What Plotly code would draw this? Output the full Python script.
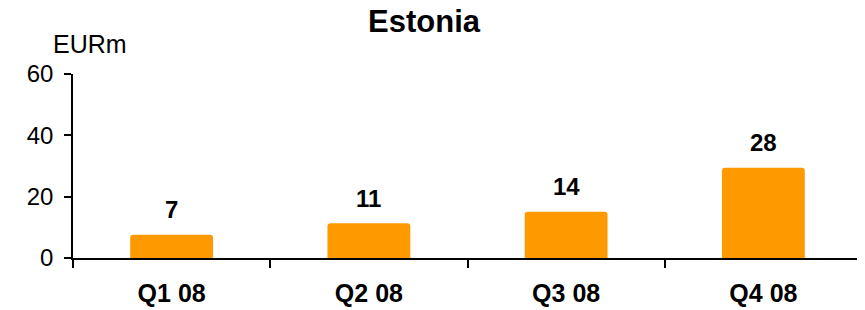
import plotly.graph_objects as go

categories = ["Q1 08", "Q2 08", "Q3 08", "Q4 08"]
values = [7.6, 11.3, 15.1, 29.4]
value_labels = ["7", "11", "14", "28"]
y_ticks = [0, 20, 40, 60]
title_text = "Estonia"
unit_text = "EURm"

FONT = "Arial, Liberation Sans, sans-serif"

# page has an 8px body margin, so the figure is 8px smaller
W, H = 857, 302

fig = go.Figure()
fig.add_trace(go.Bar(
    x=categories, y=values, width=0.42,
    marker=dict(color="#FF9900", line=dict(width=0), cornerradius=3),
    hoverinfo="skip",
))

for c, v, t in zip(categories, values, value_labels):
    fig.add_annotation(x=c, y=v, xref="x", yref="y", text=f"<b>{t}</b>",
                       showarrow=False, yanchor="middle", yshift=25,
                       font=dict(family=FONT, size=24, color="black"))

fig.add_annotation(x=0, y=1, xref="paper", yref="paper", text=unit_text,
                   showarrow=False, xanchor="left", yanchor="middle",
                   xshift=-22, yshift=30,
                   font=dict(family=FONT, size=25, color="black"))

fig.update_layout(
    width=W, height=H,
    margin=dict(l=65, r=3, t=66, b=49),
    paper_bgcolor="white", plot_bgcolor="white",
    showlegend=False,
    title=dict(text=f"<b>{title_text}</b>", x=416/W, xanchor="center",
               y=1 - 13.5/H, yanchor="middle", yref="container",
               font=dict(family=FONT, size=31, color="black")),
    font=dict(family=FONT, color="black"),
)
fig.update_xaxes(
    showline=True, linecolor="black", linewidth=1.5,
    ticks="outside", ticklen=8, tickcolor="black", tickwidth=1.5,
    tickson="boundaries", showgrid=False, ticklabelstandoff=12,
    tickfont=dict(family=FONT, size=25, color="black", weight="bold"),
)
fig.update_yaxes(
    range=[0, 60], tickvals=y_ticks, ticktext=[str(t) for t in y_ticks],
    showline=True, linecolor="black", linewidth=1.5,
    ticks="outside", ticklen=7, tickcolor="black", tickwidth=1.5,
    showgrid=False, zeroline=False, ticklabelstandoff=6,
    tickfont=dict(family=FONT, size=24, color="black"),
)

fig.write_html("out.html")
